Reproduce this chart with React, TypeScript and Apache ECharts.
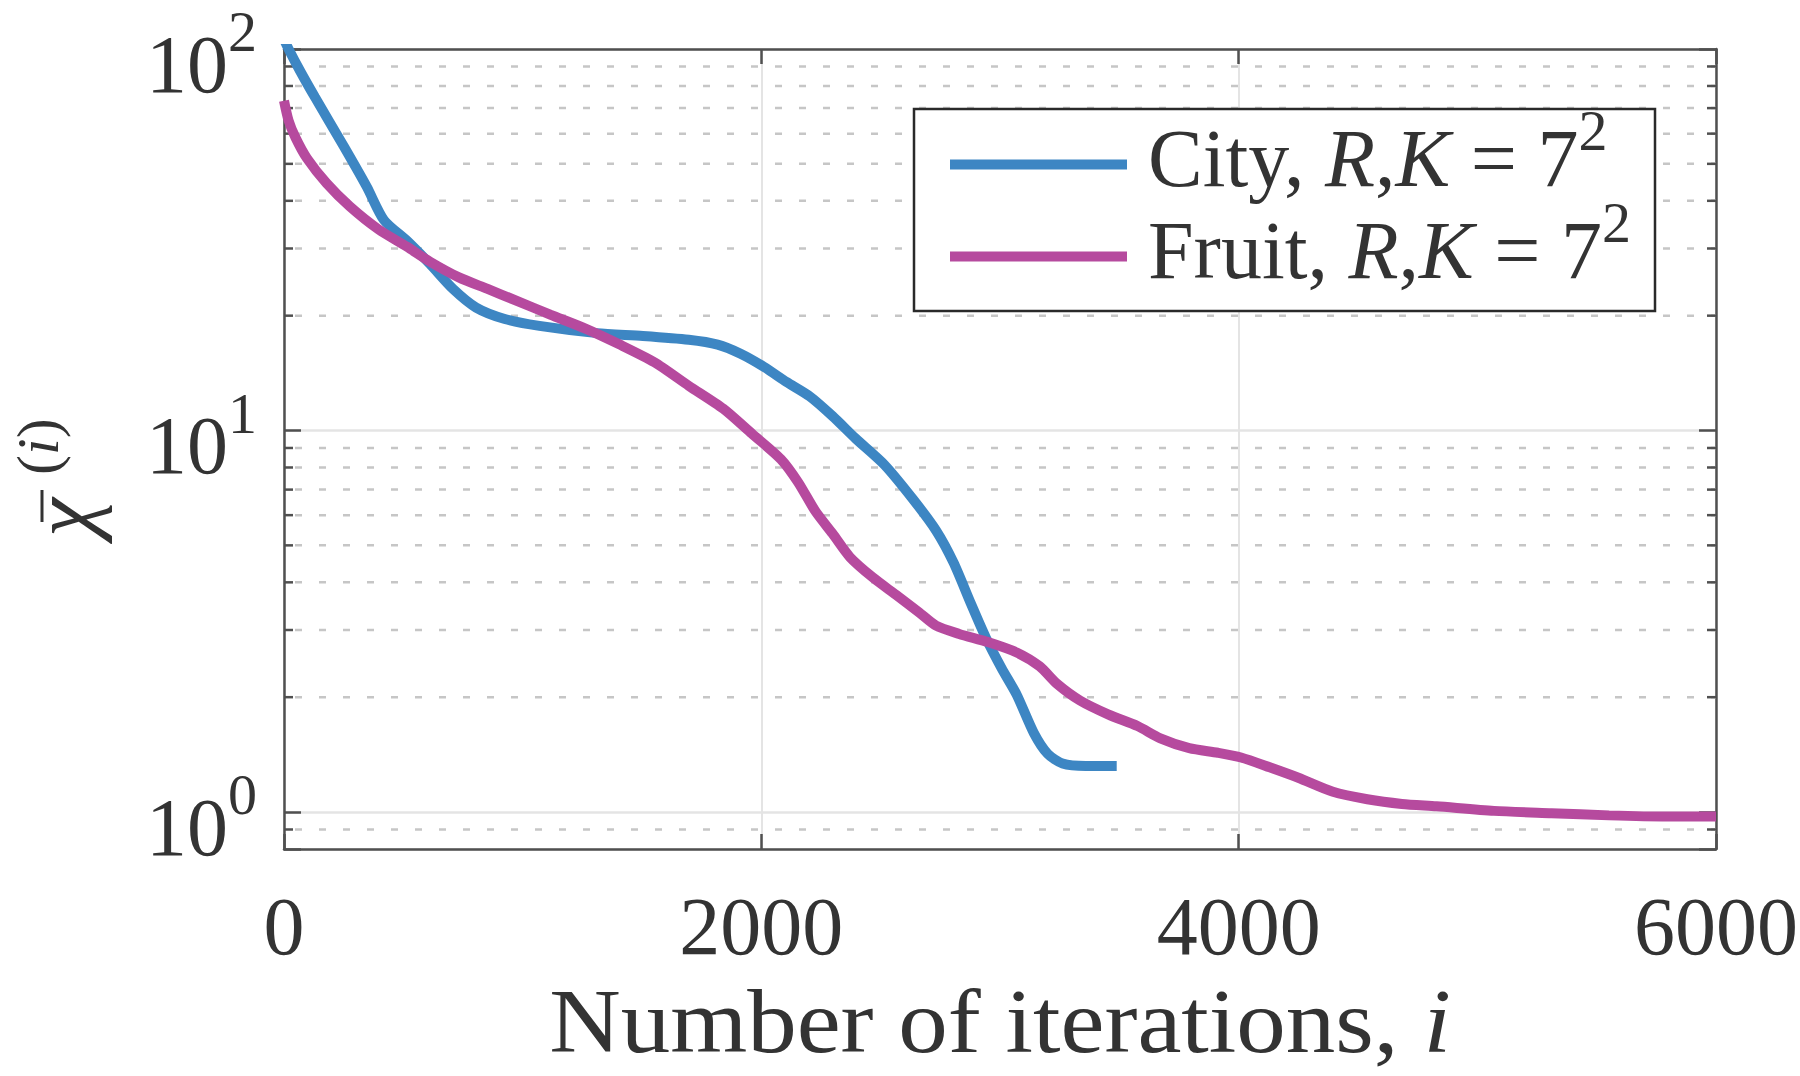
import { useEffect, useRef } from 'react';
import * as echarts from 'echarts';

// ---------- data ----------
const seriesNames = ['City', 'Fruit'];
const legendSuffix = ['R', 'K', '7', '2'];

const cityIter = [0, 19, 67, 130, 251, 347, 419, 516, 612, 708, 805, 925, 1070, 1311, 1504, 1696, 1817, 1913, 2010, 2106, 2202, 2299, 2395, 2516, 2636, 2732, 2805, 2877, 2940, 3007, 3070, 3142, 3200, 3262, 3359, 3489];
const cityChi = [106, 100, 87.7, 74.7, 55.5, 43.5, 35.6, 31.4, 27.3, 23.5, 21.0, 19.6, 18.8, 18.0, 17.7, 17.3, 16.8, 15.9, 14.7, 13.4, 12.3, 10.9, 9.53, 8.13, 6.6, 5.47, 4.51, 3.53, 2.87, 2.38, 2.03, 1.61, 1.42, 1.34, 1.32, 1.32];

const fruitIter = [0, 19, 48, 96, 178, 275, 395, 516, 612, 733, 853, 973, 1118, 1263, 1407, 1552, 1696, 1841, 1961, 2082, 2154, 2226, 2299, 2371, 2467, 2564, 2660, 2732, 2829, 2949, 3070, 3166, 3238, 3335, 3455, 3576, 3672, 3793, 3913, 4010, 4130, 4250, 4395, 4539, 4684, 4829, 5070, 5311, 5552, 5792, 6000];
const fruitChi = [73.2, 65.0, 58.6, 51.7, 44.5, 38.7, 33.7, 30.3, 27.7, 25.2, 23.5, 21.9, 20.1, 18.5, 16.8, 15.1, 13.1, 11.4, 9.8, 8.41, 7.32, 6.15, 5.36, 4.66, 4.12, 3.71, 3.34, 3.08, 2.93, 2.79, 2.62, 2.41, 2.17, 1.96, 1.80, 1.68, 1.56, 1.47, 1.43, 1.39, 1.31, 1.23, 1.13, 1.08, 1.05, 1.035, 1.007, 0.993, 0.98, 0.973, 0.973];

const xTickValues = [0, 2000, 4000, 6000];
const yRange = [0.8, 100];
const yMinorValues = [0.9, 2, 3, 4, 5, 6, 7, 8, 9, 20, 30, 40, 50, 60, 70, 80, 90];

// ---------- styles ----------
const FONT = 'Liberation Serif';
const TXT = '#333333';
const AX = '#505050';
const BLUE = '#3d86c3';
const MAGENTA = '#b64a9e';
const MAJOR_GRID = '#e4e4e4';
const MINOR_GRID = '#c6c6c6';

export default function App() {
  const ref = useRef<HTMLDivElement>(null);

  useEffect(() => {
    if (!ref.current) return;
    const chart = echarts.init(ref.current, null, { renderer: 'svg' });

    const xMin = xTickValues[0];
    const xMax = xTickValues[xTickValues.length - 1];

    const axisLineStyle = { color: AX, width: 2.5 };

    const option: any = {
      animation: false,
      backgroundColor: '#ffffff',
      grid: { left: 284, top: 49, width: 1432, height: 800, containLabel: false, outerBoundsMode: 'none' },
      xAxis: [
        {
          type: 'value', min: xMin, max: xMax, interval: 2000, position: 'bottom',
          axisLine: { show: true, onZero: false, lineStyle: axisLineStyle },
          axisTick: { show: true, inside: true, length: 15, lineStyle: axisLineStyle },
          axisLabel: {
            show: true, margin: 36, fontFamily: FONT, fontSize: 82, lineHeight: 82, color: TXT,
            showMinLabel: true, showMaxLabel: true,
            formatter: (v: number) => String(v),
          },
          splitLine: { show: true, lineStyle: { color: MAJOR_GRID, width: 2 } },
        },
        {
          type: 'value', min: xMin, max: xMax, interval: 2000, position: 'top',
          axisLine: { show: true, onZero: false, lineStyle: axisLineStyle },
          axisTick: { show: true, inside: true, length: 15, lineStyle: axisLineStyle },
          axisLabel: { show: false },
          splitLine: { show: false },
        },
      ],
      yAxis: [
        {
          type: 'log', logBase: 10, min: yRange[0], max: yRange[1], position: 'left',
          axisLine: { show: true, onZero: false, lineStyle: axisLineStyle },
          axisTick: { show: true, inside: true, length: 17, lineStyle: axisLineStyle },
          axisLabel: {
            show: true, margin: 27, fontFamily: FONT, fontSize: 82, color: TXT,
            showMinLabel: true, showMaxLabel: true,
            formatter: (v: number) => {
              const e = Math.round(Math.log10(v));
              if (Math.abs(Math.pow(10, e) - v) > 1e-9 * Math.max(1, v)) return '';
              return `{b|10}{s|${e}}`;
            },
            rich: {
              b: { fontFamily: FONT, fontSize: 82, color: TXT, padding: [30, 0, 0, 0] },
              s: { fontFamily: FONT, fontSize: 58, color: TXT, verticalAlign: 'top', padding: [9.5, 0, 0, 0] },
            },
          },
          splitLine: { show: true, lineStyle: { color: MAJOR_GRID, width: 2.5 } },
        },
        {
          type: 'log', logBase: 10, min: yRange[0], max: yRange[1], position: 'right',
          axisLine: { show: true, onZero: false, lineStyle: axisLineStyle },
          axisTick: { show: true, inside: true, length: 17, lineStyle: axisLineStyle },
          axisLabel: { show: false },
          splitLine: { show: false },
        },
      ],
      legend: {
        show: true,
        orient: 'vertical',
        left: 950,
        top: 101,
        padding: 0,
        itemGap: -6,
        itemWidth: 177,
        itemHeight: 10,
        icon: 'rect',
        selectedMode: false,
        data: seriesNames,
        formatter: (name: string) =>
          `{r0|${name}, }{i|${legendSuffix[0]}}{r|,}{i|${legendSuffix[1]}}{r| = ${legendSuffix[2]}}{s|${legendSuffix[3]}}`,
        textStyle: {
          fontFamily: FONT, fontSize: 82, color: TXT,
          rich: {
            r0: { fontFamily: FONT, fontSize: 82, color: TXT, padding: [0, 0, 13, 16] },
            r: { fontFamily: FONT, fontSize: 82, color: TXT, padding: [0, 0, 13, 0] },
            i: { fontFamily: FONT, fontSize: 82, color: TXT, fontStyle: 'italic', padding: [0, 0, 13, 0] },
            s: { fontFamily: FONT, fontSize: 58, color: TXT, verticalAlign: 'top', padding: [0, 0, 69, 0] },
          },
        },
      },
      series: [
        {
          type: 'custom',
          name: 'minorGrid',
          xAxisIndex: 0,
          yAxisIndex: 0,
          silent: true,
          z: 1,
          dimensions: ['x', 'y'],
          encode: { x: 0, y: 1 },
          data: yMinorValues.map((v) => [xMin, v]),
          renderItem: (_params: any, api: any) => {
            const v = api.value(1);
            const p0 = api.coord([xMin, v]);
            const p1 = api.coord([xMax, v]);
            return {
              type: 'group',
              children: [
                {
                  type: 'line',
                  shape: { x1: p0[0], y1: p0[1], x2: p1[0], y2: p1[1] },
                  style: { stroke: MINOR_GRID, lineWidth: 2.5, lineDash: [7, 17], lineDashOffset: 13 },
                },
                {
                  type: 'line',
                  shape: { x1: p0[0], y1: p0[1], x2: p0[0] + 9, y2: p0[1] },
                  style: { stroke: AX, lineWidth: 2.5 },
                },
                {
                  type: 'line',
                  shape: { x1: p1[0] - 9, y1: p1[1], x2: p1[0], y2: p1[1] },
                  style: { stroke: AX, lineWidth: 2.5 },
                },
              ],
            };
          },
        },
        {
          type: 'line',
          name: seriesNames[0],
          xAxisIndex: 0,
          yAxisIndex: 0,
          data: cityIter.map((x, i) => [x, cityChi[i]]),
          showSymbol: false,
          symbol: 'none',
          smooth: 0.25,
          clip: true,
          z: 3,
          color: BLUE,
          itemStyle: { color: BLUE },
          lineStyle: { color: BLUE, width: 10 },
        },
        {
          type: 'line',
          name: seriesNames[1],
          xAxisIndex: 0,
          yAxisIndex: 0,
          data: fruitIter.map((x, i) => [x, fruitChi[i]]),
          showSymbol: false,
          symbol: 'none',
          smooth: 0.25,
          clip: true,
          z: 3,
          color: MAGENTA,
          itemStyle: { color: MAGENTA },
          lineStyle: { color: MAGENTA, width: 10 },
        },
      ],
      graphic: [
        {
          type: 'rect',
          z: 3,
          shape: { x: 914, y: 109, width: 741, height: 202 },
          style: { fill: '#ffffff', stroke: '#2a2a2a', lineWidth: 2.5 },
        },
        {
          type: 'text',
          z: 5,
          x: 1000,
          y: 1022,
          scaleX: 1.1,
          style: {
            text: '{r|Number of iterations, }{i|i}',
            rich: {
              r: { fontFamily: FONT, fontSize: 90, fill: TXT },
              i: { fontFamily: FONT, fontSize: 90, fill: TXT, fontStyle: 'italic' },
            },
            fill: TXT,
            align: 'center',
            verticalAlign: 'middle',
          },
        },
        {
          type: 'group',
          z: 5,
          x: 93,
          y: 537,
          rotation: Math.PI / 2,
          children: [
            {
              type: 'text',
              style: {
                text: 'χ',
                x: 0,
                y: -30,
                fontFamily: FONT,
                fontSize: 88,
                fontStyle: 'italic',
                fill: TXT,
                align: 'left',
                verticalAlign: 'middle',
              },
            },
            {
              type: 'line',
              shape: { x1: 15, y1: -51, x2: 47, y2: -51 },
              style: { stroke: TXT, lineWidth: 3 },
            },
            {
              type: 'text',
              style: {
                text: '{r|(}{i|i}{r|)}',
                rich: {
                  r: { fontFamily: FONT, fontSize: 60, fill: TXT },
                  i: { fontFamily: FONT, fontSize: 60, fill: TXT, fontStyle: 'italic' },
                },
                x: 62,
                y: -55,
                fill: TXT,
                align: 'left',
                verticalAlign: 'middle',
              },
            },
          ],
        },
      ],
    };

    chart.setOption(option);
    return () => {
      chart.dispose();
    };
  }, []);

  return (
    <div
      ref={ref}
      style={{ position: 'fixed', left: 0, top: 0, width: 1800, height: 1076, background: '#fff' }}
    />
  );
}
